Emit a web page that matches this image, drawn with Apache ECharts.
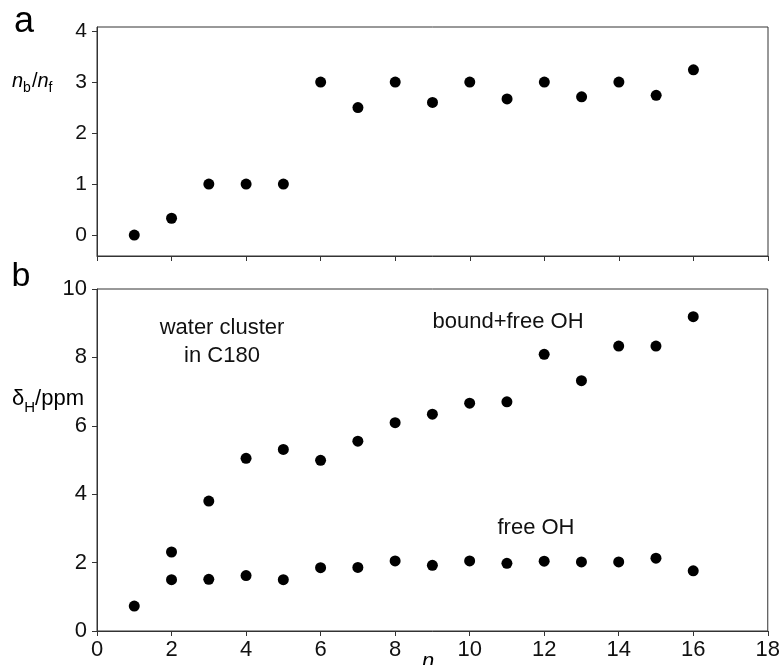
<!DOCTYPE html>
<html>
<head>
<meta charset="utf-8">
<script src="https://cdn.jsdelivr.net/npm/echarts@6/dist/echarts.min.js"></script>
<style>
html,body{margin:0;padding:0;background:#fff;}
#c{width:783px;height:665px;}
</style>
</head>
<body>
<div id="c"></div>
<script>
// ---- data ----
var nValues = [1, 2, 3, 4, 5, 6, 7, 8, 9, 10, 11, 12, 13, 14, 15, 16];
var ratioBF = [0, 0.33, 1, 1, 1, 3, 2.5, 3, 2.6, 3, 2.67, 3, 2.71, 3, 2.74, 3.24];
var boundFreeOH = [null, 2.31, 3.80, 5.05, 5.31, 4.99, 5.55, 6.09, 6.34, 6.66, 6.70, 8.09, 7.32, 8.33, 8.33, 9.19];
var freeOH = [0.73, 1.50, 1.51, 1.62, 1.50, 1.85, 1.86, 2.05, 1.92, 2.05, 1.98, 2.04, 2.02, 2.02, 2.13, 1.76];
var xTicks = [0, 2, 4, 6, 8, 10, 12, 14, 16, 18];
var yTicksA = [0, 1, 2, 3, 4];
var yTicksB = [0, 2, 4, 6, 8, 10];

function pairs(xs, ys) {
  var out = [];
  for (var i = 0; i < xs.length; i++) {
    if (ys[i] !== null && ys[i] !== undefined) out.push([xs[i], ys[i]]);
  }
  return out;
}

var FONT = "'Liberation Sans', Arial, Helvetica, sans-serif";
var AX = '#333';

var chart = echarts.init(document.getElementById('c'), null, {renderer: 'canvas'});

function xAxisCfg(gridIndex, showLabels) {
  return {
    type: 'value', gridIndex: gridIndex, min: 0, max: 18, interval: 2,
    axisLine: {show: true, onZero: false, lineStyle: {color: AX, width: 1}},
    axisTick: {show: true, inside: false, length: 5, lineStyle: {color: AX}},
    axisLabel: {show: showLabels, color: '#111', fontSize: 22, fontFamily: FONT, margin: 8},
    splitLine: {show: false}
  };
}

var dot = {color: '#000', opacity: 1};

var option = {
  backgroundColor: '#fff',
  animation: false,
  grid: [
    {left: 97, right: 15, top: 27, height: 229, show: true, borderColor: AX, borderWidth: 1, containLabel: false},
    {left: 97, right: 15, top: 289, height: 342, show: true, borderColor: AX, borderWidth: 1, containLabel: false}
  ],
  xAxis: [xAxisCfg(0, false), xAxisCfg(1, true)],
  yAxis: [
    {
      type: 'value', gridIndex: 0, min: -0.41, max: 4.08,
      axisLine: {show: true, onZero: false, lineStyle: {color: AX}},
      axisTick: {show: true, length: 5, lineStyle: {color: AX}, customValues: yTicksA},
      axisLabel: {color: '#111', fontSize: 21, fontFamily: FONT, margin: 10, customValues: yTicksA},
      splitLine: {show: false}
    },
    {
      type: 'value', gridIndex: 1, min: 0, max: 10, interval: 2,
      axisLine: {show: true, onZero: false, lineStyle: {color: AX}},
      axisTick: {show: true, length: 5, lineStyle: {color: AX}},
      axisLabel: {color: '#111', fontSize: 22, fontFamily: FONT, margin: 10},
      splitLine: {show: false}
    }
  ],
  series: [
    {type: 'scatter', xAxisIndex: 0, yAxisIndex: 0, symbol: 'circle', symbolSize: 11,
     itemStyle: dot, data: pairs(nValues, ratioBF)},
    {type: 'scatter', xAxisIndex: 1, yAxisIndex: 1, symbol: 'circle', symbolSize: 11,
     itemStyle: dot, data: pairs(nValues, boundFreeOH)},
    {type: 'scatter', xAxisIndex: 1, yAxisIndex: 1, symbol: 'circle', symbolSize: 11,
     itemStyle: dot, data: pairs(nValues, freeOH)}
  ],
  graphic: [
    {type: 'text', x: 24, y: 22, style: {text: 'a', font: '36px ' + FONT, fill: '#000', align: 'center', verticalAlign: 'middle'}},
    {type: 'text', x: 21, y: 277, style: {text: 'b', font: '34px ' + FONT, fill: '#000', align: 'center', verticalAlign: 'middle'}},
    {type: 'text', x: 12, y: 80, style: {
      text: '{i|n}{s|b}{r|/}{i|n}{s|f}', verticalAlign: 'middle',
      rich: {
        i: {fontSize: 20, fontStyle: 'italic', fontFamily: FONT, fill: '#000', verticalAlign: 'bottom', lineHeight: 22},
        r: {fontSize: 20, fontFamily: FONT, fill: '#000', verticalAlign: 'bottom', lineHeight: 22},
        s: {fontSize: 14, fontFamily: FONT, fill: '#000', verticalAlign: 'bottom', lineHeight: 16, padding: [0, 1, -4, 0]}
      }
    }},
    {type: 'text', x: 12, y: 398, style: {
      text: '{r|δ}{s|H}{r|/ppm}', verticalAlign: 'middle',
      rich: {
        r: {fontSize: 22, fontFamily: FONT, fill: '#000', verticalAlign: 'bottom', lineHeight: 24},
        s: {fontSize: 15, fontFamily: FONT, fill: '#000', verticalAlign: 'bottom', lineHeight: 16, padding: [0, 0, -5, 0]}
      }
    }},
    {type: 'text', x: 428, y: 662, style: {text: 'n', font: 'italic 22px ' + FONT, fill: '#000', align: 'center', verticalAlign: 'middle'}},
    {type: 'text', x: 222, y: 328, style: {text: 'water cluster', font: '22px ' + FONT, fill: '#111', align: 'center', verticalAlign: 'middle'}},
    {type: 'text', x: 222, y: 356, style: {text: 'in C180', font: '22px ' + FONT, fill: '#111', align: 'center', verticalAlign: 'middle'}},
    {type: 'text', x: 508, y: 322, style: {text: 'bound+free OH', font: '22px ' + FONT, fill: '#111', align: 'center', verticalAlign: 'middle'}},
    {type: 'text', x: 536, y: 528, style: {text: 'free OH', font: '22px ' + FONT, fill: '#111', align: 'center', verticalAlign: 'middle'}}
  ]
};
chart.setOption(option);
</script>
</body>
</html>
